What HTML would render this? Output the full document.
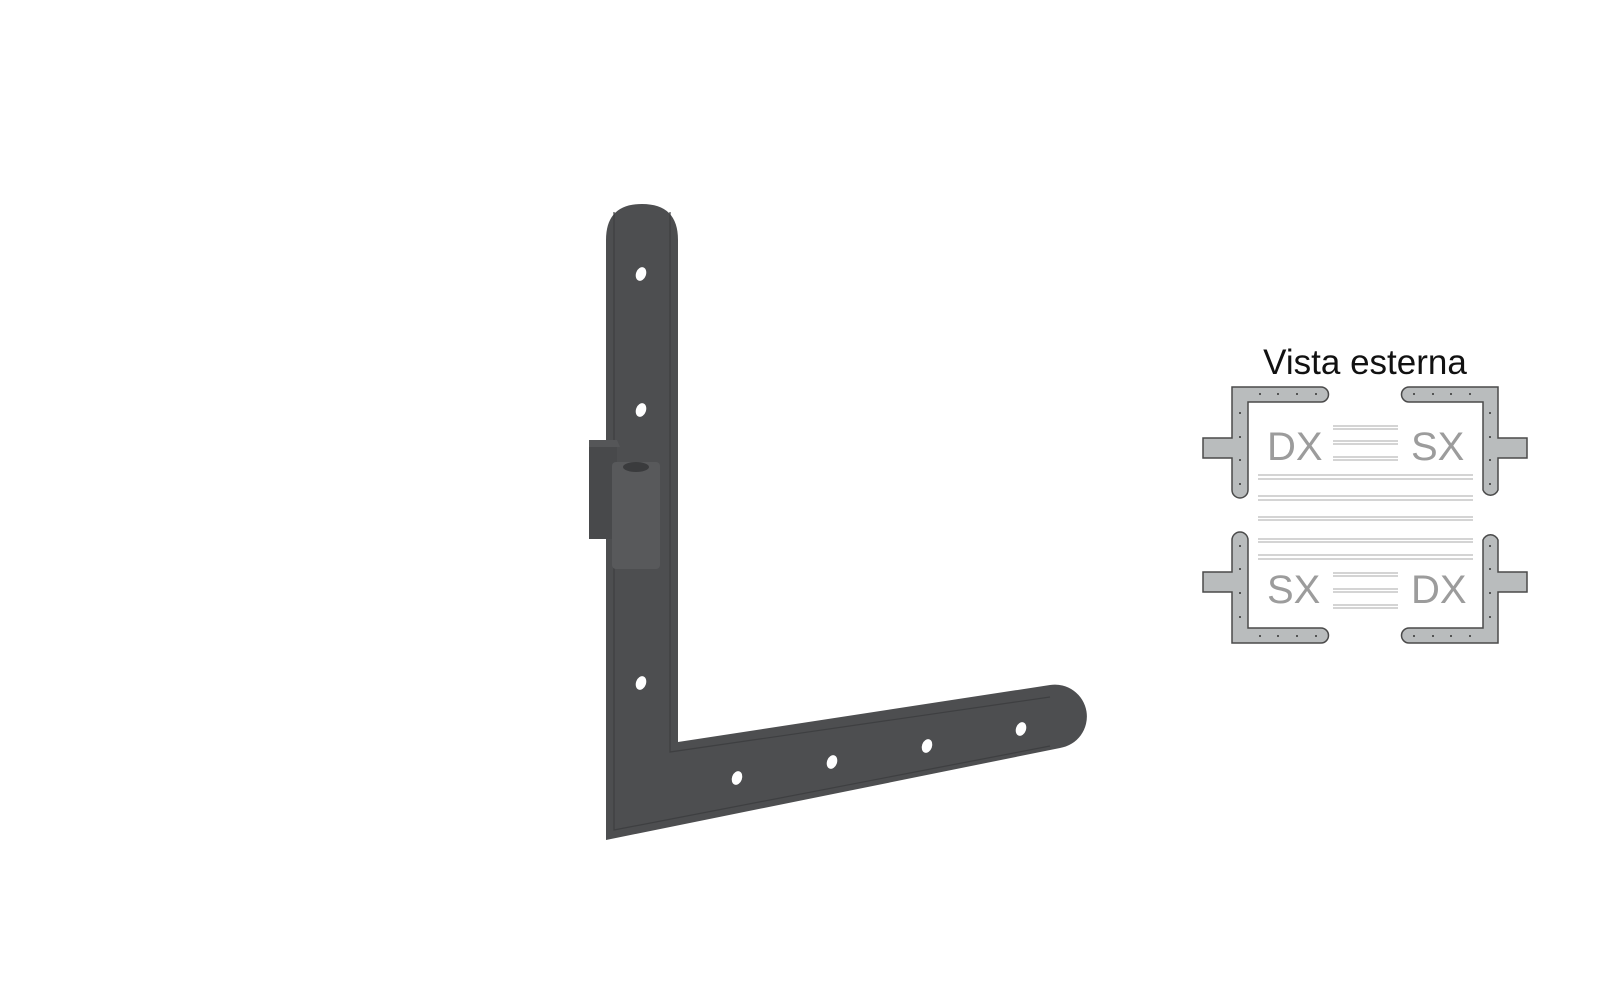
<!DOCTYPE html>
<html><head><meta charset="utf-8"><style>
html,body{margin:0;padding:0;background:#fff;width:1600px;height:1000px;overflow:hidden}
svg{display:block}
</style></head><body>
<svg width="1600" height="1000" viewBox="0 0 1600 1000" xmlns="http://www.w3.org/2000/svg">
<!-- bracket -->
<path d="M606 240 Q606 204 642 204 Q678 204 678 240 L678 742 L1050 685 A31 31 0 0 1 1060 748 L606 840 Z" fill="#4d4e50"/>
<path d="M614 212 L614 830 L1050 746" fill="none" stroke="#3e3f41" stroke-width="1.2"/>
<path d="M670 212 L670 752 L1050 697" fill="none" stroke="#3e3f41" stroke-width="1.2"/>
<rect x="589" y="440" width="28" height="99" fill="#48494b"/>
<path d="M589 440 L617 440 L620 447 L589 447Z" fill="#555658"/>
<rect x="612" y="462" width="48" height="107" rx="4" fill="#58595b"/>
<ellipse cx="636" cy="467" rx="13" ry="5" fill="#3a3b3d"/>
<g fill="#fff">
<ellipse cx="641" cy="274" rx="5" ry="7" transform="rotate(20 641 274)"/>
<ellipse cx="641" cy="410" rx="5" ry="7" transform="rotate(20 641 410)"/>
<ellipse cx="641" cy="683" rx="5" ry="7" transform="rotate(20 641 683)"/>
<ellipse cx="737" cy="778" rx="5" ry="7" transform="rotate(20 737 778)"/>
<ellipse cx="832" cy="762" rx="5" ry="7" transform="rotate(20 832 762)"/>
<ellipse cx="927" cy="746" rx="5" ry="7" transform="rotate(20 927 746)"/>
<ellipse cx="1021" cy="729" rx="5" ry="7" transform="rotate(20 1021 729)"/>
</g>
<!-- diagram -->
<text x="1365" y="374" text-anchor="middle" font-family="Liberation Sans, sans-serif" font-size="35" fill="#111">Vista esterna</text>
<g fill="#b9bcbd" stroke="#4a4a4a" stroke-width="1.5">
<path d="M1232 387 L1321 387 A7.5 7.5 0 0 1 1321 402 L1248 402 L1248 490 A8 8 0 0 1 1232 490 L1232 458 L1203 458 L1203 438 L1232 438 Z"/>
<path d="M1498 387 L1409 387 A7.5 7.5 0 0 0 1409 402 L1483 402 L1483 490 A8 8 0 0 0 1498 490 L1498 458 L1527 458 L1527 438 L1498 438 Z"/>
<path d="M1232 643 L1321 643 A7.5 7.5 0 0 0 1321 628 L1248 628 L1248 540 A8 8 0 0 0 1232 540 L1232 572 L1203 572 L1203 592 L1232 592 Z"/>
<path d="M1498 643 L1409 643 A7.5 7.5 0 0 1 1409 628 L1483 628 L1483 540 A8 8 0 0 1 1498 540 L1498 572 L1527 572 L1527 592 L1498 592 Z"/>
</g>
<g fill="#333">
<circle cx="1260" cy="394" r="1"/><circle cx="1278" cy="394" r="1"/><circle cx="1297" cy="394" r="1"/><circle cx="1316" cy="394" r="1"/>
<circle cx="1240" cy="413" r="1"/><circle cx="1240" cy="437" r="1"/><circle cx="1240" cy="460" r="1"/><circle cx="1240" cy="484" r="1"/>
<circle cx="1414" cy="394" r="1"/><circle cx="1433" cy="394" r="1"/><circle cx="1451" cy="394" r="1"/><circle cx="1470" cy="394" r="1"/>
<circle cx="1490" cy="413" r="1"/><circle cx="1490" cy="437" r="1"/><circle cx="1490" cy="460" r="1"/><circle cx="1490" cy="484" r="1"/>
<circle cx="1260" cy="636" r="1"/><circle cx="1278" cy="636" r="1"/><circle cx="1297" cy="636" r="1"/><circle cx="1316" cy="636" r="1"/>
<circle cx="1240" cy="546" r="1"/><circle cx="1240" cy="569" r="1"/><circle cx="1240" cy="593" r="1"/><circle cx="1240" cy="617" r="1"/>
<circle cx="1414" cy="636" r="1"/><circle cx="1433" cy="636" r="1"/><circle cx="1451" cy="636" r="1"/><circle cx="1470" cy="636" r="1"/>
<circle cx="1490" cy="546" r="1"/><circle cx="1490" cy="569" r="1"/><circle cx="1490" cy="593" r="1"/><circle cx="1490" cy="617" r="1"/>
</g>
<g stroke="#aaa" stroke-width="1">
<path d="M1333 426H1398M1333 429H1398M1333 441H1398M1333 444H1398M1333 457H1398M1333 460H1398"/>
<path d="M1333 573H1398M1333 576H1398M1333 589H1398M1333 592H1398M1333 605H1398M1333 608H1398"/>
<path d="M1258 475H1473M1258 479H1473M1258 496H1473M1258 500H1473M1258 517H1473M1258 520H1473M1258 539H1473M1258 542H1473M1258 555H1473M1258 559H1473"/>
</g>
<g font-family="Liberation Sans, sans-serif" font-size="40" fill="#9c9c9c">
<text x="1267" y="460">DX</text><text x="1411" y="460">SX</text>
<text x="1267" y="603">SX</text><text x="1411" y="603">DX</text>
</g>
</svg>
</body></html>
